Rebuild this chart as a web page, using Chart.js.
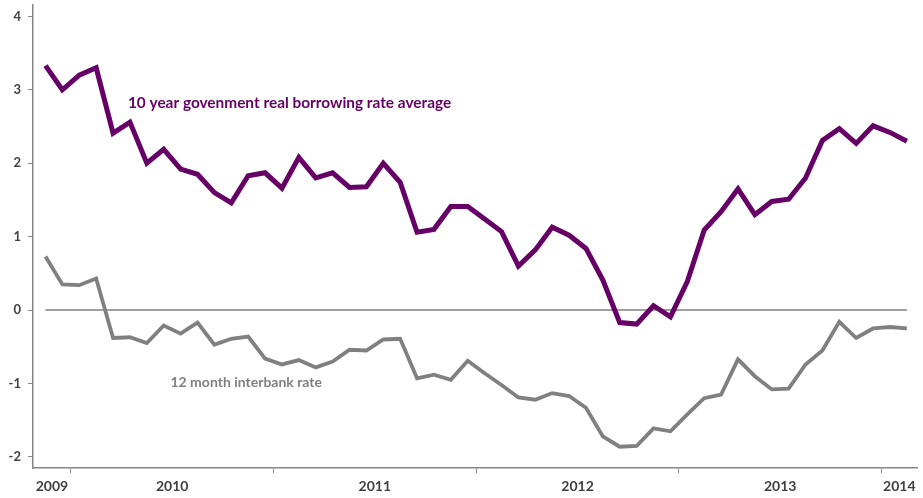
<!DOCTYPE html>
<html>
<head>
<meta charset="utf-8">
<title>Real borrowing rates</title>
<script src="https://cdn.jsdelivr.net/npm/chart.js@4.4.1/dist/chart.umd.min.js"></script>
<style>
  html, body { margin: 0; padding: 0; background: #ffffff; }
  #wrap { position: relative; width: 923px; height: 498px; }
</style>
</head>
<body>
<div id="wrap"><canvas id="ratesChart"></canvas></div>
<script>
// Monthly observations, Nov 2009 - Feb 2014
const months = [
  'Nov 2009', 'Dec 2009',
  'Jan 2010', 'Feb 2010', 'Mar 2010', 'Apr 2010', 'May 2010', 'Jun 2010',
  'Jul 2010', 'Aug 2010', 'Sep 2010', 'Oct 2010', 'Nov 2010', 'Dec 2010',
  'Jan 2011', 'Feb 2011', 'Mar 2011', 'Apr 2011', 'May 2011', 'Jun 2011',
  'Jul 2011', 'Aug 2011', 'Sep 2011', 'Oct 2011', 'Nov 2011', 'Dec 2011',
  'Jan 2012', 'Feb 2012', 'Mar 2012', 'Apr 2012', 'May 2012', 'Jun 2012',
  'Jul 2012', 'Aug 2012', 'Sep 2012', 'Oct 2012', 'Nov 2012', 'Dec 2012',
  'Jan 2013', 'Feb 2013', 'Mar 2013', 'Apr 2013', 'May 2013', 'Jun 2013',
  'Jul 2013', 'Aug 2013', 'Sep 2013', 'Oct 2013', 'Nov 2013', 'Dec 2013',
  'Jan 2014', 'Feb 2014'
];

// 10 year government real borrowing rate average (%)
const govBorrowing = [
  3.33, 3.00,
  3.20, 3.30, 2.41, 2.56, 2.00, 2.19, 1.92, 1.85, 1.60, 1.46, 1.83, 1.87,
  1.66, 2.08, 1.80, 1.87, 1.67, 1.68, 2.00, 1.74, 1.06, 1.10, 1.41, 1.41,
  1.24, 1.07, 0.60, 0.82, 1.13, 1.02, 0.84, 0.41, -0.17, -0.19, 0.06, -0.09,
  0.39, 1.09, 1.34, 1.65, 1.30, 1.48, 1.51, 1.80, 2.31, 2.47, 2.27, 2.51,
  2.42, 2.30
];

// 12 month interbank rate (%)
const interbank = [
  0.73, 0.35,
  0.34, 0.43, -0.38, -0.37, -0.45, -0.21, -0.32, -0.17, -0.47, -0.39, -0.36, -0.66,
  -0.74, -0.68, -0.78, -0.70, -0.54, -0.55, -0.40, -0.39, -0.93, -0.88, -0.95, -0.69,
  -0.86, -1.02, -1.19, -1.22, -1.13, -1.17, -1.33, -1.72, -1.86, -1.85, -1.61, -1.65,
  -1.42, -1.20, -1.15, -0.67, -0.90, -1.08, -1.07, -0.74, -0.55, -0.16, -0.38, -0.25,
  -0.23, -0.25
];

const yearLabels = ['2009', '2010', '2011', '2012', '2013', '2014'];
const yTickValues = [-2, -1, 0, 1, 2, 3, 4];

const PURPLE = '#660066';
const GREY = '#808080';
const AXIS = '#868686';
const TEXT = '#404040';
const FONT = 'Lato';

const X_MIN = -0.74;
const X_MAX = 51.6;

// year boundaries sit half a month before each January
const boundaries = [];
months.forEach((m, i) => {
  if (m.startsWith('Jan') && i > 0) boundaries.push(i - 0.5);
});
const edges = [X_MIN, ...boundaries, X_MAX];
const yearCentres = yearLabels.map((_, i) => (edges[i] + edges[i + 1]) / 2);

const xTickValues = [...yearCentres, ...boundaries].sort((a, b) => a - b);
const isBoundary = v => boundaries.some(b => Math.abs(b - v) < 1e-6);
const labelFor = v => {
  const i = yearCentres.findIndex(c => Math.abs(c - v) < 1e-6);
  return i >= 0 ? yearLabels[i] : '';
};

const toPoints = arr => arr.map((v, i) => ({ x: i, y: v }));

// series captions written inside the plot
const captions = [
  { text: '10 year govenment real borrowing rate average', x: 4.88, y: 2.82, color: PURPLE, size: 15.4 },
  { text: '12 month interbank rate', x: 7.4, y: -0.99, color: GREY, size: 14 }
];

const captionPlugin = {
  id: 'captions',
  afterDatasetsDraw(chart) {
    const { ctx, scales: { x, y } } = chart;
    ctx.save();
    ctx.textAlign = 'left';
    ctx.textBaseline = 'middle';
    captions.forEach(c => {
      ctx.font = `bold ${c.size}px ${FONT}`;
      ctx.fillStyle = c.color;
      ctx.fillText(c.text, x.getPixelForValue(c.x), y.getPixelForValue(c.y));
    });
    ctx.restore();
  }
};

// keep the plot edges fixed, no extra room for end labels
const noEdgePadding = s => {
  s.paddingTop = 0;
  s.paddingBottom = 0;
  s.paddingLeft = 0;
  s.paddingRight = 0;
};

const ctx = document.getElementById('ratesChart').getContext('2d');
new Chart(ctx, {
  type: 'line',
  data: {
    datasets: [
      {
        label: '10 year govenment real borrowing rate average',
        data: toPoints(govBorrowing),
        borderColor: PURPLE,
        borderWidth: 5,
        pointRadius: 0,
        tension: 0
      },
      {
        label: '12 month interbank rate',
        data: toPoints(interbank),
        borderColor: GREY,
        borderWidth: 3.8,
        pointRadius: 0,
        tension: 0
      },
      {
        label: 'zero',
        data: [{ x: 0, y: 0 }, { x: months.length - 1, y: 0 }],
        borderColor: GREY,
        borderWidth: 1.5,
        pointRadius: 0
      }
    ]
  },
  options: {
    responsive: true,
    maintainAspectRatio: false,
    animation: false,
    layout: { padding: { top: 5, right: 6, left: 0, bottom: 0 } },
    plugins: {
      legend: { display: false },
      tooltip: { enabled: false }
    },
    scales: {
      x: {
        type: 'linear',
        min: X_MIN,
        max: X_MAX,
        afterFit: s => { s.height = 30; noEdgePadding(s); },
        afterBuildTicks: s => { s.ticks = xTickValues.map(v => ({ value: v })); },
        ticks: {
          autoSkip: false,
          maxRotation: 0,
          padding: 5,
          color: TEXT,
          font: { family: FONT, size: 14, weight: 'bold' },
          callback: v => labelFor(v)
        },
        grid: {
          drawOnChartArea: false,
          drawTicks: true,
          tickLength: 5,
          tickWidth: 1,
          tickColor: c => (c.tick && isBoundary(c.tick.value)) ? AXIS : 'rgba(0,0,0,0)'
        },
        border: { display: true, color: AXIS, width: 1.5 }
      },
      y: {
        min: -2.15,
        max: 4.155,
        afterFit: s => { s.width = 33; noEdgePadding(s); },
        afterBuildTicks: s => { s.ticks = yTickValues.map(v => ({ value: v })); },
        ticks: {
          padding: 7,
          color: TEXT,
          font: { family: FONT, size: 13, weight: 'bold' },
          callback: v => String(v)
        },
        grid: {
          drawOnChartArea: false,
          drawTicks: true,
          tickLength: 5,
          tickColor: AXIS
        },
        border: { display: true, color: AXIS, width: 1.5 }
      }
    }
  },
  plugins: [captionPlugin]
});
</script>
</body>
</html>
